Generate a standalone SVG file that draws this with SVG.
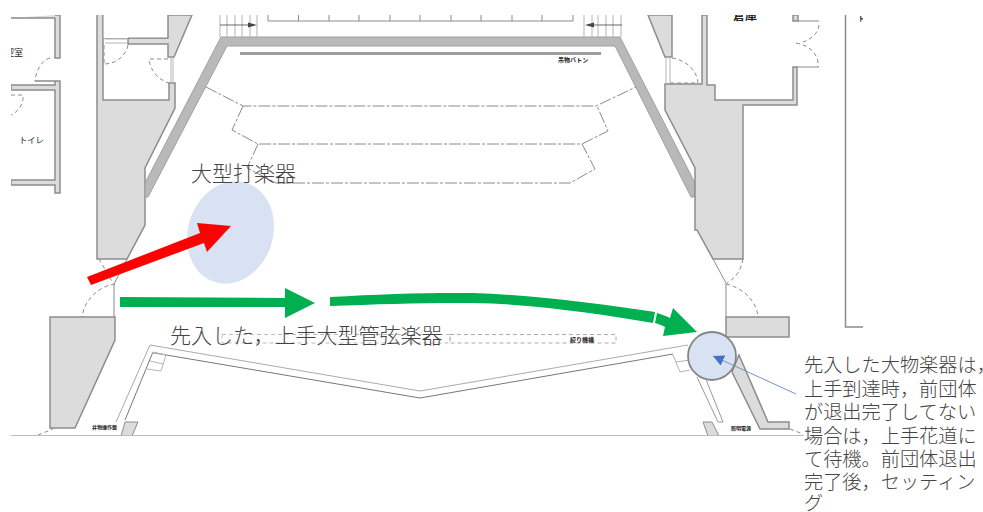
<svg xmlns="http://www.w3.org/2000/svg" width="983" height="512" viewBox="0 0 983 512">
<defs>
<style>
.wall{fill:#dcdcdc;stroke:#8c8c8c;stroke-width:1.5}
.band{fill:#b9b9b9;stroke:#a0a0a0;stroke-width:1}
.ln{fill:none;stroke:#8a8a8a;stroke-width:1}
.thin{fill:none;stroke:#b5b5b5;stroke-width:1}
.dash{fill:none;stroke:#8c8c8c;stroke-width:1;stroke-dasharray:4 3}
.chain{fill:none;stroke:#8a8a8a;stroke-width:1;stroke-dasharray:12 2 3 2}
.tiny{font-family:"Noto Sans CJK JP","Liberation Sans",sans-serif;font-size:6px;fill:#222;font-weight:700}
.lab{font-family:"Noto Sans CJK JP","Noto Sans CJK SC",sans-serif;fill:#444;font-weight:300}
</style>
<clipPath id="crop"><rect x="11" y="15" width="852" height="420.5"/></clipPath>
<marker id="tri" markerUnits="userSpaceOnUse" markerWidth="12" markerHeight="12" refX="11" refY="5.5" orient="auto"><path d="M0,0L11,5.5L0,11Z" fill="#4472c4"/></marker>
</defs>
<rect width="983" height="512" fill="#fff"/>
<g id="plan" clip-path="url(#crop)">
<path class="wall" d="M11,18H55V58H60V15H55"/>
<path class="wall" d="M35,81H60V193H55V185H11V180H55V90H11V85H55V81Z" />
<path class="dash" d="M50,58C42,60 36,70 35,81"/>
<path class="dash" d="M11,95H23C24,104 18,112 11,115"/>
<text class="tiny" x="5" y="56" style="font-size:9px;font-weight:400">控室</text>
<text class="tiny" x="19" y="143" style="font-size:8.300px;font-weight:400">トイレ</text>
<path class="wall" d="M97,10H103V100H169V83H175V108L145,168V225L127,259H97Z"/>
<path class="wall" d="M103,38H168V15H192L174,57H168V44H128V38"/>
<rect x="103" y="15" width="64" height="23" fill="#fff"/>
<path class="ln" d="M103,15V38M128,38H168"/>
<path class="thin" d="M105,39H128M105,43H128M171,58V83M173,58V83"/>
<path class="dash" d="M128,45C126,56 116,64 104,64M104,45V64M168,59H149C150,70 158,80 169,83"/>
<path class="dash" d="M99,259L113,283M115,284C99,286 84,300 82,317"/>
<path class="ln" d="M127,259L114,284V317"/>
<path class="wall" d="M50,317H115V340L75,428H50Z"/>
<path class="dash" d="M38,435L53,429"/>

<path class="band" d="M221,37H620L695,183V197H691L615,46H227L148,197H145V183Z"/>
<path d="M240,53.500H601" stroke="#9d9d9d" stroke-width="3" fill="none"/>
<text class="tiny" x="558" y="62">吊物バトン</text>
<path class="chain" d="M206,87L243,106H596L636,87"/>
<path class="chain" d="M243,106L232,130L258,144H582L608,131L597,106"/>
<path class="chain" d="M258,144L247,168L276,183H570L595,169L582,144"/>

<path class="ln" d="M268,15V21H573V15M298.500,15V21M329,15V21M359,15V21M390,15V21M420,15V21M451,15V21M481,15V21M512,15V21M542,15V21"/>
<path class="thin" d="M220,15V37M227,15V37M235,15V37M242,15V37M250,15V37M257,15V37M584,15V37M592,15V37M598,15V37M606,15V37M613,15V37M621,15V37"/>
<path d="M220,25H250M592,25H622" stroke="#444" stroke-width=".8" fill="none"/>
<path d="M248,22.500L257,25L248,27.500ZM594,22.500L585,25L594,27.500Z" fill="#444"/>

<path class="wall" d="M648,15H672V57H665Z"/>
<path class="wall" d="M665,84V110L695,168V230H697L713,259H743V105H797V67H793V100H715V85H707V15H702V84Z"/>
<path class="thin" d="M666,58V84M670,58V84"/>
<path class="dash" d="M672,58C686,60 697,70 698,83M670,83H698"/>
<path class="wall" d="M793,15H798V21H793Z"/>
<path class="ln" d="M798,21H819M797,67H819"/>
<path class="dash" d="M819,25C818,33 812,39 803,42M796,43C807,45 816,51 818,62V67"/>
<text class="tiny" x="733" y="20" style="font-size:12px">倉庫</text>
<path class="ln" d="M845.500,10V327H863" style="stroke-width:1.500"/>
<text class="tiny" x="858" y="21" style="font-size:7px">ト</text>
<path class="ln" d="M713,259L726,283V317"/>
<path class="dash" d="M743,259C741,270 736,278 727,283M726,284C744,288 757,302 758,317"/>
<path class="wall" d="M726,317H789V337H726Z"/>
<path class="wall" d="M739,355L768,422H789V429H760L732,372Z"/>
<path class="dash" d="M790,429L803,434"/>

<path class="thin" d="M116,422L150,345L420,391L688,345" style="stroke:#aaa"/>
<path class="ln" d="M125,420L152.700,352.700L420,398L673,354" style="stroke:#777"/>
<path class="thin" d="M153,352L166,355L161,371L147,369M150,361L163,364"/>
<path class="wall" d="M125,422H138L132,436H121Z" style="stroke-width:1"/>
<text class="tiny" x="92" y="429" style="font-size:5px">井物操作盤</text>
<path class="thin" d="M697,377L718,422H723L705,377" style="stroke:#999"/>
<path class="thin" d="M673,355L680,372L690,370M676,362L690,360"/>
<path class="wall" d="M703,422H712L719,436H708Z" style="stroke-width:1"/>
<text class="tiny" x="731" y="430" style="font-size:5px">照明電源</text>
<rect x="450" y="334.500" width="166" height="8.500" class="dash" style="stroke:#aaa"/>
<rect x="222" y="334.500" width="228" height="8.500" class="dash" style="stroke:#bbb"/>
<text class="tiny" x="570" y="341.500">絞り機構</text>
</g>
<path id="base-line" d="M11,435.500H804" stroke="#bdbdbd" stroke-width="1" fill="none"/>

<g id="percussion-area"><ellipse cx="230.500" cy="232.500" rx="42.500" ry="52" fill="#d9e2f3" transform="rotate(18 230.500 232.500)"/></g>
<g id="stop-position"><circle cx="712" cy="356" r="24" fill="#d9e2f3" stroke="#868686" stroke-width="1.800"/></g>

<g id="connectors">
<path d="M87,277L200,233L197,223L231,226L207,252L204,243L91,285Z" fill="#f00"/>
<path d="M120,297L285,298V288L315,303L285,318V307L120,307Z" fill="#00b050"/>
<path d="M330,297C380,294 430,292.500 473,293C535,295 600,304 655,312L653,323C600,314 535,304 473,303C430,302.500 380,304 330,306Z" fill="#00b050"/>
<path d="M657,313C661,314 666,316 670,318L673,308L697,332L663,336L665,327C662,325 658,324 655,323Z" fill="#00b050"/>
<path d="M796,394L713,356" stroke="#6f93d3" stroke-width="1" fill="none" marker-end="url(#tri)"/>
</g>

<g id="labels" class="lab">
<text x="191" y="181" font-size="21">大型打楽器</text>
<text x="170" y="343" font-size="21">先入した，上手大型管弦楽器</text>
<g font-size="19.200">
<text x="804" y="372">先入した大物楽器は，</text>
<text x="804" y="396">上手到達時，前団体</text>
<text x="804" y="419">が退出完了してない</text>
<text x="804" y="443">場合は，上手花道に</text>
<text x="804" y="466">て待機。前団体退出</text>
<text x="804" y="489">完了後，セッティン</text>
<text x="804" y="510">グ</text>
</g>
</g>
</svg>
